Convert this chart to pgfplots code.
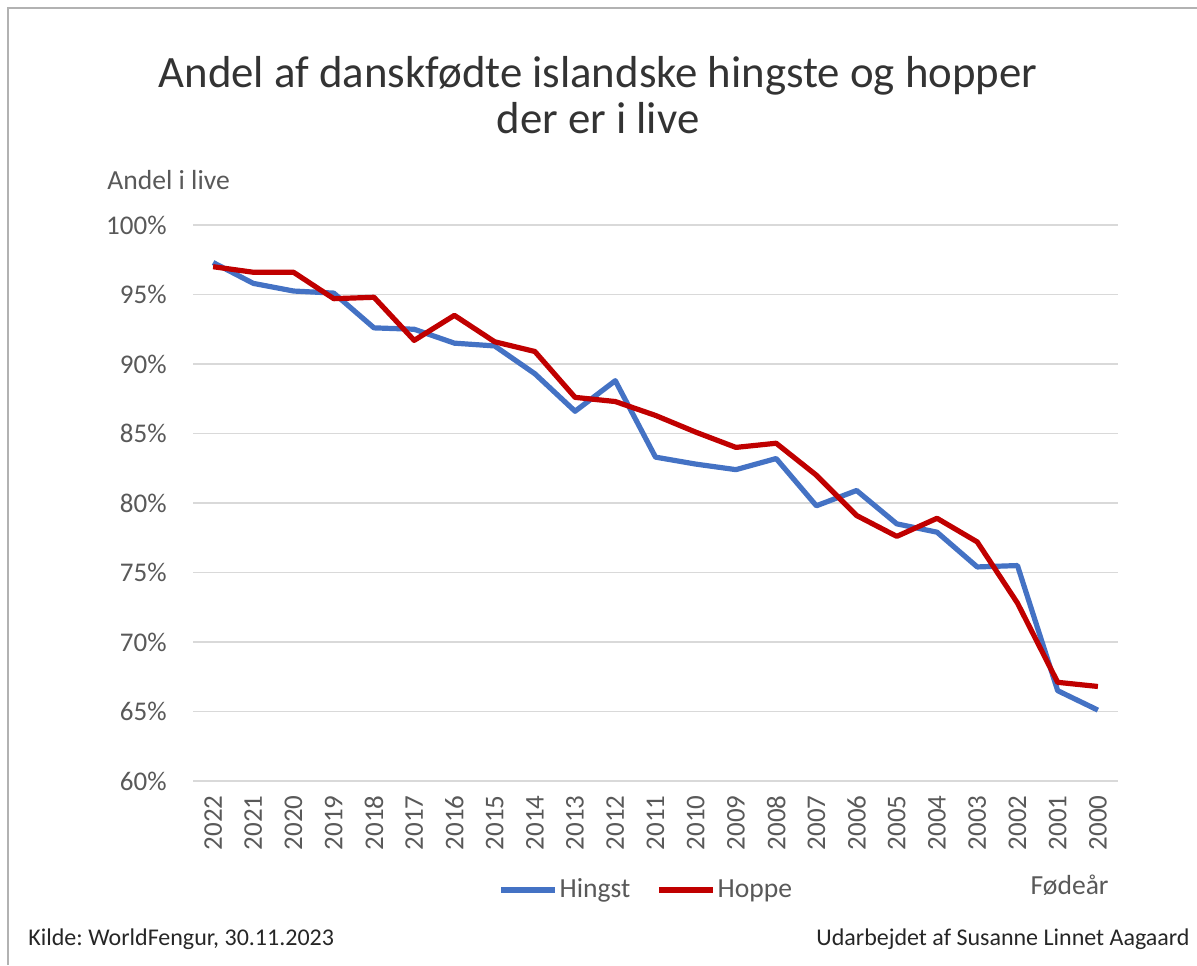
\documentclass[border=0pt]{standalone}
\usepackage{pgfplots}
\pgfplotsset{compat=1.18}
\usepackage{fontspec}
\setmainfont{Carlito}
\frenchspacing
\definecolor{hingst}{RGB}{68,114,196}
\definecolor{hoppe}{RGB}{192,0,0}
\definecolor{txtgray}{RGB}{89,89,89}
\definecolor{gridgray}{RGB}{217,217,217}

% andel i live, 2022 -> 2000
\pgfplotstableread{
i  hingst hoppe
0  97.3   97.0
1  95.8   96.6
2  95.25  96.6
3  95.1   94.7
4  92.6   94.8
5  92.5   91.7
6  91.5   93.5
7  91.3   91.6
8  89.3   90.9
9  86.6   87.6
10 88.8   87.3
11 83.3   86.3
12 82.8   85.1
13 82.4   84.0
14 83.2   84.3
15 79.8   82.0
16 80.9   79.1
17 78.5   77.6
18 77.9   78.9
19 75.4   77.2
20 75.5   72.8
21 66.5   67.1
22 65.1   66.8
}\data

\begin{document}
\begin{tikzpicture}[x=0.5pt,y=0.5pt]
  \path[use as bounding box] (0,0) rectangle (1197,965);
  \draw[gray!60, line width=1.2pt] (8,0) -- (8,957) -- (1197,957);
  \node[font=\fontsize{22.4}{26}\selectfont, text=black!80, anchor=base] at (598,877) {Andel af danskfødte islandske hingste og hopper};
  \node[font=\fontsize{22.4}{26}\selectfont, text=black!80, anchor=base] at (598,831) {der er i live};
  \node[font=\fontsize{13.8}{16}\selectfont, text=txtgray, anchor=base west, inner sep=0pt] at (107,775) {Andel i live};
  \node[font=\fontsize{13.8}{16}\selectfont, text=txtgray, anchor=base east, inner sep=0pt] at (1109,71) {Fødeår};
  \node[font=\fontsize{12}{14}\selectfont, text=black!85, anchor=base west, inner sep=0pt] at (28,20) {Kilde: WorldFengur, 30.11.2023};
  \node[font=\fontsize{12}{14}\selectfont, text=black!85, anchor=base east, inner sep=0pt] at (1190,20) {Udarbejdet af Susanne Linnet Aagaard};
  \begin{axis}[
      at={(96.5pt,92pt)}, anchor=south west,
      width=462.5pt, height=278pt, scale only axis,
      xmin=-0.5, xmax=22.5, ymin=60, ymax=100,
      xtick={0,...,22},
      xticklabels={2022,2021,2020,2019,2018,2017,2016,2015,2014,2013,2012,2011,2010,2009,2008,2007,2006,2005,2004,2003,2002,2001,2000},
      ytick={60,65,...,100},
      yticklabel={\pgfmathprintnumber{\tick}\%},
      /pgf/number format/assume math mode=true,
      axis line style={draw=none},
      major tick length=0pt,
      ymajorgrids, grid style={gridgray, line width=0.8pt},
      tick label style={font=\fontsize{13.5}{15}\selectfont, text=txtgray},
      yticklabel style={inner sep=0pt, xshift=-13pt},
      xticklabel style={rotate=90, anchor=east, inner sep=0pt, xshift=-7pt},
      legend style={draw=none, fill=none, at={(0.49,-0.196)}, anchor=center,
        font=\fontsize{13.8}{16}\selectfont, text=txtgray, column sep=0pt,
        nodes={inner sep=1pt},
        /tikz/every even column/.append style={column sep=12pt}},
      legend columns=2,
      legend image code/.code={\draw[#1] (0pt,0pt) -- (27pt,0pt);},
      clip=false,
    ]
    \addplot[hingst, line width=2.6pt, line join=round] table[x=i, y=hingst] {\data};
    \addlegendentry{Hingst}
    \addplot[hoppe, line width=2.6pt, line join=round] table[x=i, y=hoppe] {\data};
    \addlegendentry{Hoppe}
  \end{axis}
\end{tikzpicture}
\end{document}
